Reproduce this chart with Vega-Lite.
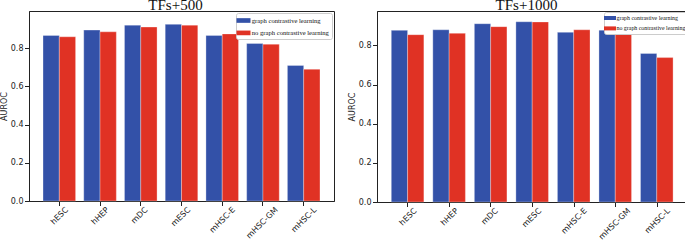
{
  "$schema": "https://vega.github.io/schema/vega-lite/v6.json",
  "padding": {"left": 0, "top": -3, "right": 0, "bottom": 0},
  "background": "white",
  "spacing": 13,
  "datasets": {
    "auroc": [
      {"panel": "TFs+500", "cell": "hESC", "method": "graph contrastive learning", "auroc": 0.867},
      {"panel": "TFs+500", "cell": "hESC", "method": "no graph contrastive learning", "auroc": 0.860},
      {"panel": "TFs+500", "cell": "hHEP", "method": "graph contrastive learning", "auroc": 0.895},
      {"panel": "TFs+500", "cell": "hHEP", "method": "no graph contrastive learning", "auroc": 0.886},
      {"panel": "TFs+500", "cell": "mDC", "method": "graph contrastive learning", "auroc": 0.921},
      {"panel": "TFs+500", "cell": "mDC", "method": "no graph contrastive learning", "auroc": 0.911},
      {"panel": "TFs+500", "cell": "mESC", "method": "graph contrastive learning", "auroc": 0.925},
      {"panel": "TFs+500", "cell": "mESC", "method": "no graph contrastive learning", "auroc": 0.921},
      {"panel": "TFs+500", "cell": "mHSC-E", "method": "graph contrastive learning", "auroc": 0.867},
      {"panel": "TFs+500", "cell": "mHSC-E", "method": "no graph contrastive learning", "auroc": 0.875},
      {"panel": "TFs+500", "cell": "mHSC-GM", "method": "graph contrastive learning", "auroc": 0.825},
      {"panel": "TFs+500", "cell": "mHSC-GM", "method": "no graph contrastive learning", "auroc": 0.821},
      {"panel": "TFs+500", "cell": "mHSC-L", "method": "graph contrastive learning", "auroc": 0.710},
      {"panel": "TFs+500", "cell": "mHSC-L", "method": "no graph contrastive learning", "auroc": 0.690},
      {"panel": "TFs+1000", "cell": "hESC", "method": "graph contrastive learning", "auroc": 0.877},
      {"panel": "TFs+1000", "cell": "hESC", "method": "no graph contrastive learning", "auroc": 0.855},
      {"panel": "TFs+1000", "cell": "hHEP", "method": "graph contrastive learning", "auroc": 0.880},
      {"panel": "TFs+1000", "cell": "hHEP", "method": "no graph contrastive learning", "auroc": 0.862},
      {"panel": "TFs+1000", "cell": "mDC", "method": "graph contrastive learning", "auroc": 0.911},
      {"panel": "TFs+1000", "cell": "mDC", "method": "no graph contrastive learning", "auroc": 0.896},
      {"panel": "TFs+1000", "cell": "mESC", "method": "graph contrastive learning", "auroc": 0.921},
      {"panel": "TFs+1000", "cell": "mESC", "method": "no graph contrastive learning", "auroc": 0.920},
      {"panel": "TFs+1000", "cell": "mHSC-E", "method": "graph contrastive learning", "auroc": 0.867},
      {"panel": "TFs+1000", "cell": "mHSC-E", "method": "no graph contrastive learning", "auroc": 0.880},
      {"panel": "TFs+1000", "cell": "mHSC-GM", "method": "graph contrastive learning", "auroc": 0.878},
      {"panel": "TFs+1000", "cell": "mHSC-GM", "method": "no graph contrastive learning", "auroc": 0.860},
      {"panel": "TFs+1000", "cell": "mHSC-L", "method": "graph contrastive learning", "auroc": 0.759},
      {"panel": "TFs+1000", "cell": "mHSC-L", "method": "no graph contrastive learning", "auroc": 0.738}
    ]
  },
  "config": {
    "view": {"stroke": "#222", "strokeWidth": 1},
    "title": {"font": "Liberation Serif", "fontSize": 15, "fontWeight": "normal", "color": "#111", "offset": -2.2, "dx": -6},
    "axis": {
      "domainColor": "#222", "tickColor": "#222", "tickSize": 4.5, "grid": false,
      "labelFont": "DejaVu Sans", "labelFontSize": 8, "labelColor": "#222",
      "titleFont": "DejaVu Sans", "titleFontSize": 8, "titleFontWeight": "normal", "titleColor": "#222"
    },
    "legend": {
      "orient": "top-right",
      "strokeColor": "#cccccc", "fillColor": "white", "cornerRadius": 2,
      "labelFont": "Liberation Serif", "labelColor": "#111",
      "symbolType": "M-1.5,-0.5H1.5V0.5H-1.5Z", "symbolStrokeWidth": 0,
      "symbolOpacity": 1, "title": null
    }
  },
  "hconcat": [
    {
      "title": "TFs+500",
      "width": 305,
      "height": 190,
      "data": {"name": "auroc"},
      "transform": [{"filter": "datum.panel === 'TFs+500'"}],
      "mark": {"type": "bar", "stroke": "white", "strokeWidth": 0.6, "strokeOpacity": 0.5},
      "encoding": {
        "x": {"field": "cell", "type": "nominal", "sort": null,
              "scale": {"paddingInner": 0.2, "paddingOuter": 0.344},
              "axis": {"title": null, "labelAngle": -45, "labelAlign": "right", "labelBaseline": "top", "labelPadding": 0,
                       "labelOffset": {"expr": "length(datum.label) * 1.98 - 2.8"}}},
        "xOffset": {"field": "method", "type": "nominal", "scale": {"paddingInner": 0, "paddingOuter": 0}},
        "y": {"field": "auroc", "type": "quantitative",
              "scale": {"domain": [0, 0.995], "nice": false, "zero": true},
              "axis": {"title": "AUROC", "values": [0, 0.2, 0.4, 0.6, 0.8], "format": ".1f", "labelPadding": 1.5, "titlePadding": 1.5}},
        "color": {"field": "method", "type": "nominal",
                  "scale": {"domain": ["graph contrastive learning", "no graph contrastive learning"], "range": ["#3351a8", "#e03224"]},
                  "legend": {"title": null, "labelFontSize": 6.6, "symbolSize": 87, "labelOffset": 3.3, "rowPadding": 3.4, "padding": 2.5, "offset": 2}}
      }
    },
    {
      "title": "TFs+1000",
      "width": 311,
      "height": 191,
      "data": {"name": "auroc"},
      "transform": [{"filter": "datum.panel === 'TFs+1000'"}],
      "mark": {"type": "bar", "stroke": "white", "strokeWidth": 0.6, "strokeOpacity": 0.5},
      "encoding": {
        "x": {"field": "cell", "type": "nominal", "sort": null,
              "scale": {"paddingInner": 0.2, "paddingOuter": 0.344},
              "axis": {"title": null, "labelAngle": -45, "labelAlign": "right", "labelBaseline": "top", "labelPadding": 0,
                       "labelOffset": {"expr": "length(datum.label) * 1.98 - 2.8"}}},
        "xOffset": {"field": "method", "type": "nominal", "scale": {"paddingInner": 0, "paddingOuter": 0}},
        "y": {"field": "auroc", "type": "quantitative",
              "scale": {"domain": [0, 0.976], "nice": false, "zero": true},
              "axis": {"title": "AUROC", "values": [0, 0.2, 0.4, 0.6, 0.8], "format": ".1f", "labelPadding": 1.5, "titlePadding": 1.5}},
        "color": {"field": "method", "type": "nominal",
                  "scale": {"domain": ["graph contrastive learning", "no graph contrastive learning"], "range": ["#3351a8", "#e03224"]},
                  "legend": {"title": null, "labelFontSize": 5.9, "symbolSize": 64, "labelOffset": 2.5, "rowPadding": 3.4, "padding": 2, "offset": 0.5}}
      }
    }
  ],
  "resolve": {"scale": {"y": "independent", "x": "independent"}, "legend": {"color": "independent"}}
}
